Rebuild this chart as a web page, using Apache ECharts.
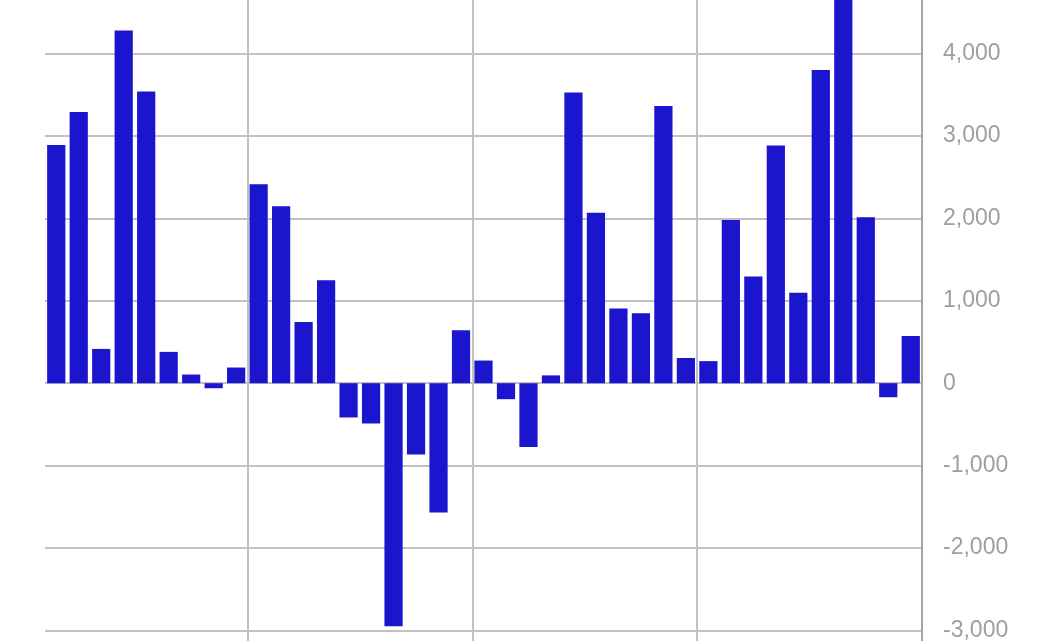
<!DOCTYPE html>
<html>
<head>
<meta charset="utf-8">
<script src="https://cdn.jsdelivr.net/npm/echarts@6/dist/echarts.min.js"></script>
<style>
html,body{margin:0;padding:0;background:#fff;}
#chart{width:1038px;height:641px;}
</style>
</head>
<body>
<div id="chart"></div>
<script>
const categories = Array.from({length: 39}, (_, i) => 'P' + (i + 1));
const values = [
  2890, 3290, 416, 4280, 3540, 380, 105, -61, 190,
  2415, 2148, 744, 1250, -416, -489, -2949, -866, -1569, 643,
  275, -194, -773, 95, 3527, 2070, 907, 850, 3365, 306,
  268, 1980, 1295, 2884, 1097, 3802, 4900, 2013, -170, 573
];
const yTicks = { min: -4000, max: 5000, step: 1000 };

const chart = echarts.init(document.getElementById('chart'));
chart.setOption({
  animation: false,
  backgroundColor: '#ffffff',
  grid: { left: 45, right: 116, top: -28.8, bottom: -71.8, containLabel: false, outerBoundsMode: 'none' },
  xAxis: {
    type: 'category',
    data: categories,
    boundaryGap: true,
    axisLine: { show: false },
    axisTick: { show: false },
    axisLabel: { show: false },
    splitLine: {
      show: true,
      interval: function (index) { return index % 10 === 9; },
      lineStyle: { color: '#c2c2c2', width: 2 }
    }
  },
  yAxis: {
    type: 'value',
    position: 'right',
    min: yTicks.min,
    max: yTicks.max,
    interval: yTicks.step,
    axisLine: { show: true, lineStyle: { color: '#a6a6a6', width: 2 } },
    axisTick: { show: false },
    axisLabel: {
      margin: 21,
      color: '#9e9e9e',
      fontFamily: 'Liberation Sans, Arial, sans-serif',
      fontSize: 23,
      formatter: function (v) { return v.toLocaleString('en-US'); }
    },
    splitLine: { show: true, lineStyle: { color: '#c2c2c2', width: 2 } }
  },
  series: [{
    type: 'bar',
    data: values,
    barCategoryGap: '19%',
    itemStyle: { color: '#1b15cd' }
  }]
});
</script>
</body>
</html>
